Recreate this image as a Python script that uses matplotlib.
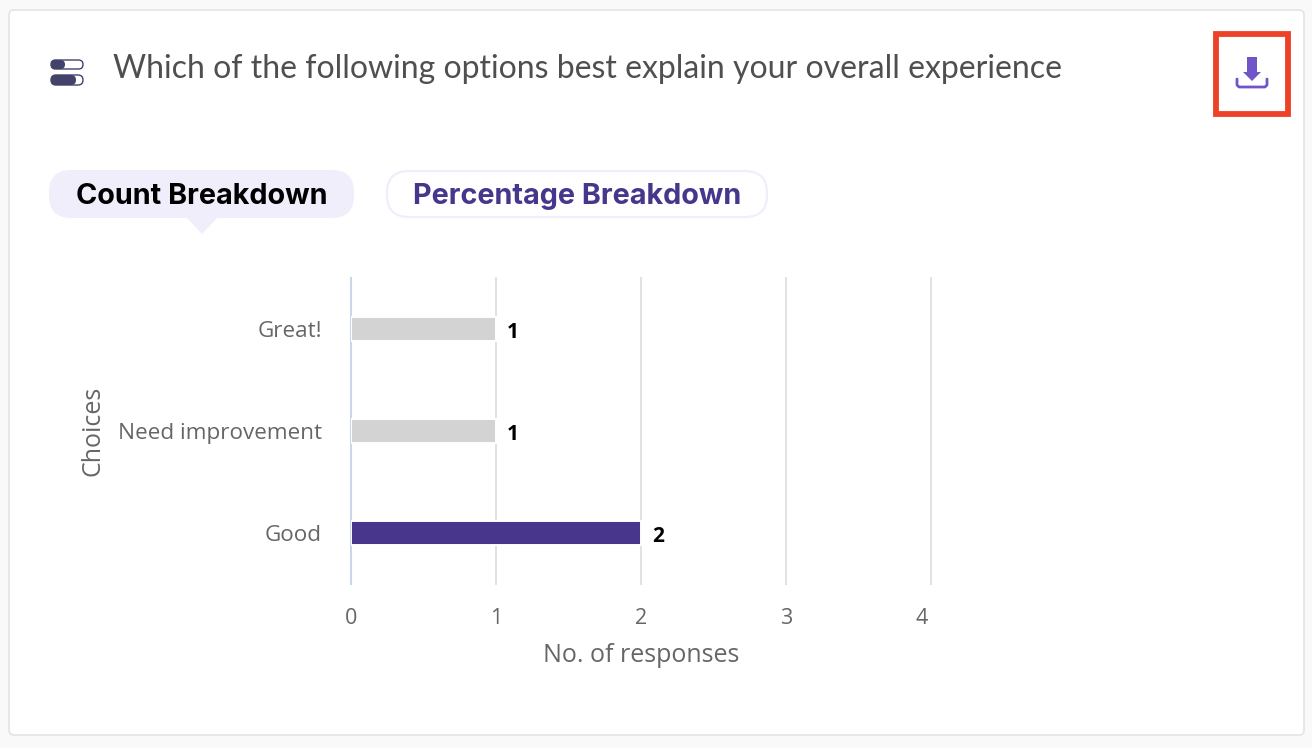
import matplotlib
matplotlib.use('Agg')
import matplotlib.pyplot as plt
import matplotlib.transforms as mtrans
from matplotlib.patches import FancyBboxPatch, Polygon, Rectangle

choices = ['Good', 'Need improvement', 'Great!']
responses = [2, 1, 1]
bar_colors = ['#47368c', '#d3d3d3', '#d3d3d3']
x_ticks = [0, 1, 2, 3, 4]

W, H = 1312, 748
plt.rcParams['font.family'] = ['Open Sans', 'DejaVu Sans']

fig = plt.figure(figsize=(W / 100, H / 100), dpi=100, facecolor='#f9f9fa')

# page layer, in pixels from the top left
bg = fig.add_axes([0, 0, 1, 1])
bg.set_xlim(0, W)
bg.set_ylim(H, 0)
bg.axis('off')


def pill(ax, x0, y0, x1, y1, r, fc, ec='none', lw=0):
    ax.add_patch(FancyBboxPatch((x0 + r, y0 + r), x1 - x0 - 2 * r, y1 - y0 - 2 * r,
                                boxstyle='round,pad=%s,rounding_size=%s' % (r, r),
                                fc=fc, ec=ec, lw=lw))


# card
pill(bg, 9, 10, 1304, 735, 5, '#ffffff', '#e4e4e6', 1.2)

# toggle icon
pill(bg, 51, 60, 83, 69, 4.5, '#ffffff', '#42426a', 1)
pill(bg, 51, 60, 65, 69, 4.5, '#42426a')
pill(bg, 51, 75, 83, 85, 5, '#ffffff', '#42426a', 1)
pill(bg, 51, 75, 76, 85, 5, '#42426a')

bg.text(113, 68.5, 'Which of the following options best explain your overall experience',
        fontsize=23, color='#4f4f4f', va='center', family=['Lato', 'DejaVu Sans'])

# download button
bg.add_patch(Rectangle((1215.5, 33.5), 72, 80, fc='none', ec='#ee4228', lw=4.2))
bg.add_patch(Polygon([(1247, 57), (1257, 57), (1257, 72), (1261, 72), (1252, 81),
                      (1243, 72), (1247, 72)], fc='#6f55c9', ec='none'))
bg.plot([1237, 1237, 1239, 1265, 1267, 1267], [79, 85, 87, 87, 85, 79],
        color='#6f55c9', lw=2, solid_capstyle='round')

# tabs
pill(bg, 49, 170, 354, 218, 22, '#f0eefb')
bg.add_patch(Polygon([(186, 217), (218, 217), (202, 234)], fc='#f0eefb', ec='none'))
bg.text(201.5, 196.5, 'Count Breakdown', fontsize=20.75, fontweight='bold', color='#000000',
        ha='center', va='center', family=['Inter', 'DejaVu Sans'])
pill(bg, 387, 171, 767, 217, 22, '#ffffff', '#f0eefb', 1.6)
bg.text(577, 196.5, 'Percentage Breakdown', fontsize=20.75, fontweight='bold', color='#47368c',
        ha='center', va='center', family=['Inter', 'DejaVu Sans'])

# chart
left, right, top, bottom = 351, 931, 278, 584
ax = fig.add_axes([left / W, 1 - bottom / H, (right - left) / W, (bottom - top) / H])
ax.patch.set_alpha(0)
# white edge leaves the small gap the bars have against the grid lines
ax.barh(choices, responses, height=0.235, color=bar_colors, edgecolor='white', linewidth=1.4, zorder=3)
ax.set_xlim(0, 4)
ax.set_ylim(-0.5, 2.5)
ax.set_xticks(x_ticks)
ax.grid(axis='x', color='#e2e2e4', lw=1.4, zorder=1, clip_on=False)
ax.set_axisbelow(True)
for s in ['top', 'right', 'bottom']:
    ax.spines[s].set_visible(False)
ax.spines['left'].set_color('#cbd6ea')
ax.spines['left'].set_linewidth(1.5)
ax.spines['left'].set_zorder(2)
ax.tick_params(length=0)
ax.tick_params(axis='x', labelsize=15.5, labelcolor='#666666', pad=17)
ax.tick_params(axis='y', labelsize=16.2, labelcolor='#666666', pad=21)

# last tick label sits a little inside the plot
last = ax.get_xticklabels()[-1]
last.set_transform(last.get_transform() + mtrans.ScaledTranslation(-9 / 100, 0, fig.dpi_scale_trans))

ax.set_xlabel('No. of responses', fontsize=18, color='#666666', labelpad=10)
ax.set_ylabel('Choices', fontsize=18, color='#666666', labelpad=9)

for i, v in enumerate(responses):
    ax.annotate(str(v), (v, i), xytext=(11, -3), textcoords='offset pixels', ha='left', va='center',
                fontsize=15, fontweight='bold', color='#000000', zorder=4,
                bbox=dict(fc='white', ec='none', pad=4))

fig.savefig('out.png', dpi=100, facecolor=fig.get_facecolor())
